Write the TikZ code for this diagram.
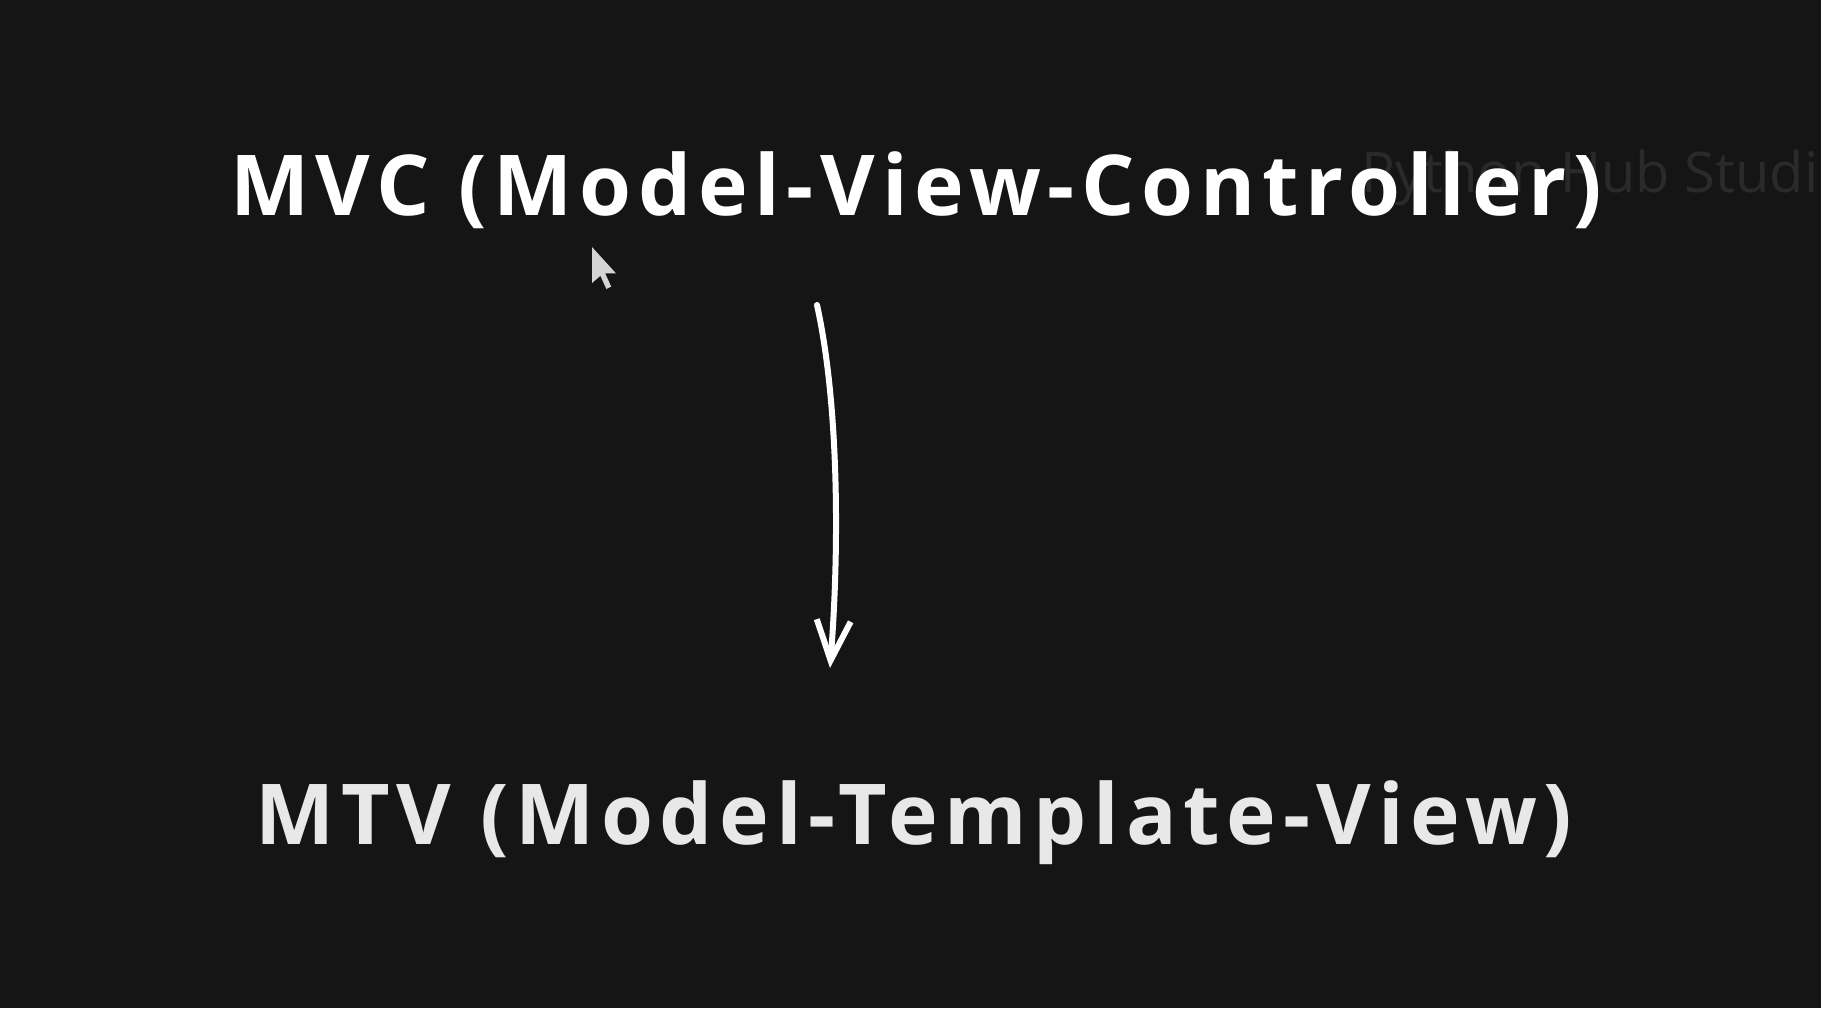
\documentclass[tikz,border=0pt]{standalone}
\usepackage{fontspec}
\setmainfont{Open Sans}
\usetikzlibrary{positioning}
\usetikzlibrary{arrows.meta}
\definecolor{BACK}{HTML}{151515}
\definecolor{TITLE}{HTML}{FFFFFF}
\definecolor{TITLE_E}{HTML}{E8E8E8}
\definecolor{MARK}{HTML}{2A2A2A}
\definecolor{POINTER}{HTML}{D4D4D4}
\newfontfamily\titlefont[LetterSpace=8]{Open Sans Bold}
\tikzset{
	every node/.style = {inner sep=0pt},
	title/.style = {font=\titlefont\fontsize{42}{46}\selectfont, anchor=base},
	hand/.style = {line width=3pt, line cap=round, line join=round}
}

\begin{document}
\begin{tikzpicture}[x=0.5pt, y=-0.5pt]
		% background
		\fill[BACK] (0,0) rectangle (1821,1008);
		\useasboundingbox (0,0) rectangle (1821,1008);
		\clip (0,0) rectangle (1821,1008);
		% watermark
		\node[anchor=base west, MARK, font=\fontsize{28}{30}\selectfont] (mark) at (1361,192) {Python Hub Studio};
		% titles
		\node[title, TITLE] (mvc) at (916,215) {MVC (Model-View-Controller)};
		\node[title, TITLE_E] (mtv) at (914,844) {MTV (Model-Template-View)};
		% hand drawn arrow
		\coordinate (from) at (817,305);
		\coordinate (to) at (830,668);
		\draw[hand, TITLE, -{Straight Barb[length=20pt, width=17pt, line width=3pt]}]
		      (from) .. controls (838,400) and (840,540) .. (to);
		% pointer
		\fill[POINTER, shift={(592,247)}, scale=1.2] (0,0) -- (0,30) -- (7,24) -- (12,35)
		      -- (16,33) -- (11,22) -- (20,22) -- cycle;
	\end{tikzpicture}
\end{document}
